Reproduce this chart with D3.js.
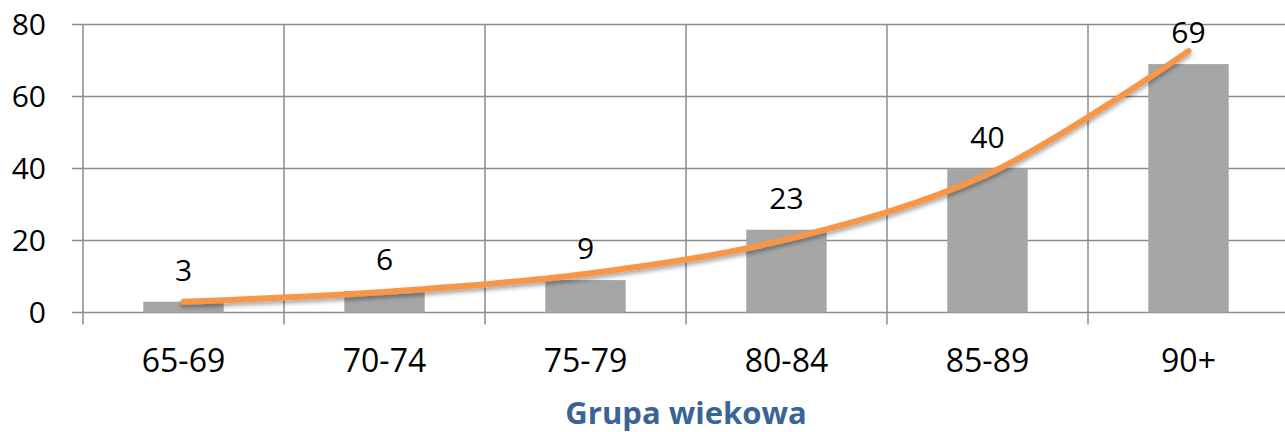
<!DOCTYPE html>
<html>
<head>
<meta charset="utf-8">
<script src="https://cdn.jsdelivr.net/npm/d3@7"></script>
<style>
  html, body { margin: 0; padding: 0; background: #fff; }
  svg { display: block; font-family: "Open Sans", Lato, sans-serif; }
</style>
</head>
<body>
<div id="chart"></div>
<script>
// age groups and values
const categories = ["65-69", "70-74", "75-79", "80-84", "85-89", "90+"];
const values = [3, 6, 9, 23, 40, 69];
// exponential trend line at each category
const trendValues = [3.0, 5.7, 10.7, 20.3, 38.4, 72.6];
const yTicks = [0, 20, 40, 60, 80];
const xTitle = "Grupa wiekowa";

const width = 1285;
const height = 432;
const margin = { top: 24.5, right: -4, bottom: 119.5, left: 83 };

const svg = d3.select("#chart")
  .append("svg")
  .attr("width", width)
  .attr("height", height)
  .attr("viewBox", [0, 0, width, height]);

const defs = svg.append("defs");
const shadow = defs.append("filter")
  .attr("id", "lineShadow")
  .attr("x", "-5%").attr("y", "-20%")
  .attr("width", "110%").attr("height", "140%");
shadow.append("feDropShadow")
  .attr("dx", 0).attr("dy", 3)
  .attr("stdDeviation", 2.2)
  .attr("flood-color", "#000")
  .attr("flood-opacity", 0.35);

const x = d3.scaleBand()
  .domain(categories)
  .range([margin.left, width - margin.right])
  .paddingInner(0.6)
  .paddingOuter(0.3);

const y = d3.scaleLinear()
  .domain([0, 80])
  .range([height - margin.bottom, margin.top]);

const gridColor = "#8c8c8c";

// horizontal grid + y ticks
svg.append("g")
  .selectAll("line")
  .data(yTicks)
  .join("line")
  .attr("x1", margin.left - 11)
  .attr("x2", width)
  .attr("y1", d => y(d))
  .attr("y2", d => y(d))
  .attr("stroke", gridColor)
  .attr("stroke-width", 1.5);

// vertical grid at category boundaries
const step = x.step();
const bounds = d3.range(categories.length + 1).map(i => margin.left + i * step);
svg.append("g")
  .selectAll("line")
  .data(bounds)
  .join("line")
  .attr("x1", d => d)
  .attr("x2", d => d)
  .attr("y1", y(80))
  .attr("y2", y(0) + 12)
  .attr("stroke", gridColor)
  .attr("stroke-width", 1.5);

// y tick labels
svg.append("g")
  .selectAll("text")
  .data(yTicks)
  .join("text")
  .attr("x", 46)
  .attr("y", d => y(d))
  .attr("dy", "0.36em")
  .attr("text-anchor", "end")
  .attr("font-size", 30)
  .attr("fill", "#000")
  .text(d => d);

// bars
svg.append("g")
  .selectAll("rect")
  .data(values)
  .join("rect")
  .attr("x", (d, i) => x(categories[i]))
  .attr("width", x.bandwidth())
  .attr("y", d => y(d))
  .attr("height", d => y(0) - y(d))
  .attr("fill", "#a6a6a6");

// trend line
const line = d3.line()
  .x((d, i) => x(categories[i]) + x.bandwidth() / 2)
  .y(d => y(d))
  .curve(d3.curveCatmullRom.alpha(0.5));

svg.append("path")
  .datum(trendValues)
  .attr("d", line)
  .attr("fill", "none")
  .attr("stroke", "#f79646")
  .attr("stroke-width", 6)
  .attr("stroke-linecap", "round")
  .attr("filter", "url(#lineShadow)");

// value labels
svg.append("g")
  .selectAll("text")
  .data(values)
  .join("text")
  .attr("x", (d, i) => x(categories[i]) + x.bandwidth() / 2)
  .attr("y", d => y(d) - 21)
  .attr("text-anchor", "middle")
  .attr("font-size", 30)
  .attr("fill", "#000")
  .text(d => d);

// category labels
svg.append("g")
  .selectAll("text")
  .data(categories)
  .join("text")
  .attr("x", d => x(d) + x.bandwidth() / 2)
  .attr("y", 372)
  .attr("text-anchor", "middle")
  .attr("font-size", 32)
  .attr("fill", "#000")
  .text(d => d);

// axis title
svg.append("text")
  .attr("x", margin.left + 3 * step)
  .attr("y", 424)
  .attr("text-anchor", "middle")
  .attr("font-size", 31)
  .attr("font-weight", "bold")
  .attr("fill", "#3a6496")
  .text(xTitle);
</script>
</body>
</html>
